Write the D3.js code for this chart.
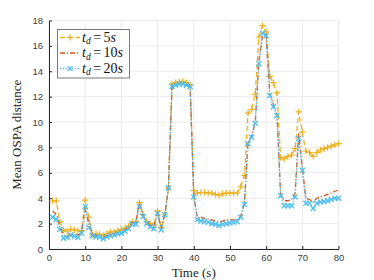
<!doctype html>
<html>
    <head>
        <script src="https://cdn.jsdelivr.net/npm/d3@7"></script>
        <style>
            html, body { margin: 0; padding: 0; background: #fff; }
            #viz svg { display: block; }
            .tick text { font-family: "Liberation Sans", Arial, sans-serif; font-size: 9.5px; fill: #404040; }
        </style>
    </head>
    <body>
        <div id="viz"></div>
        <script>
            // time stamps (s)
            var times = d3.range(1, 81);

            // mean OSPA distance, t_d = 5s
            var ospa5 = [3.8, 3.8, 2.15, 1.5, 1.4, 1.55, 1.5, 1.45, 1.45, 3.85,
                2.5, 1.1, 1.2, 1.15, 1.05, 1.2, 1.35, 1.35, 1.45, 1.55,
                1.65, 1.8, 2.15, 2.15, 3.65, 2.7, 2.15, 2.0, 1.9, 3.0,
                1.7, 2.7, 4.8, 13.0, 13.1, 13.15, 13.2, 13.1, 12.9, 4.6,
                4.4, 4.45, 4.45, 4.4, 4.4, 4.3, 4.25, 4.35, 4.4, 4.4,
                4.4, 4.4, 4.9, 5.8, 10.7, 11.0, 12.2, 16.7, 17.6, 17.1,
                13.6, 13.1, 12.3, 7.2, 7.1, 7.3, 7.4, 7.9, 10.8, 9.2,
                7.7, 7.6, 7.3, 7.6, 7.8, 7.9, 8.0, 8.1, 8.2, 8.3];

            // t_d = 10s
            var ospa10 = [3.0, 2.7, 1.8, 1.1, 1.0, 1.2, 1.15, 1.1, 1.3, 3.2,
                2.0, 1.15, 1.05, 1.05, 0.95, 1.05, 1.15, 1.2, 1.3, 1.35,
                1.5, 1.7, 2.05, 2.05, 3.7, 2.6, 2.1, 1.85, 1.7, 2.9,
                1.6, 2.7, 4.8, 12.9, 13.0, 13.05, 13.1, 13.0, 12.85, 4.2,
                2.45, 2.5, 2.4, 2.35, 2.3, 2.2, 2.15, 2.2, 2.3, 2.3,
                2.3, 2.3, 2.6, 3.6, 8.4, 8.9, 10.0, 14.8, 16.8, 17.0,
                12.3, 11.4, 10.6, 4.3, 3.8, 3.8, 3.9, 4.4, 9.1, 6.4,
                4.0, 3.9, 3.7, 4.0, 4.1, 4.2, 4.3, 4.4, 4.55, 4.65];

            // t_d = 20s
            var ospa20 = [2.5, 2.35, 1.55, 0.85, 0.9, 1.1, 1.0, 0.9, 1.25, 3.35,
                1.7, 1.05, 0.95, 0.95, 0.8, 0.95, 1.05, 1.1, 1.2, 1.25,
                1.4, 1.6, 1.95, 1.95, 3.35, 2.55, 2.0, 1.75, 1.6, 2.8,
                1.5, 2.7, 4.8, 12.8, 12.9, 13.0, 13.0, 12.9, 12.8, 4.1,
                2.3, 2.2, 2.15, 2.1, 2.0, 1.95, 1.85, 1.95, 2.0, 2.05,
                2.1, 2.15, 2.5, 3.5, 8.3, 8.8, 9.9, 14.6, 17.0, 16.8,
                12.1, 11.2, 10.5, 4.2, 3.4, 3.4, 3.4, 4.1, 8.7, 6.2,
                3.6, 3.6, 3.2, 3.6, 3.7, 3.75, 3.8, 3.9, 4.0, 4.0];

            var seriesLabels = ["5", "10", "20"];
            var xTicks = d3.range(0, 81, 10);
            var yTicks = d3.range(0, 19, 2);

            var w = 374, h = 280;
            var margin = {top: 20.5, right: 35.5, bottom: 31, left: 49};

            var svg = d3.select("#viz").append("svg")
                .attr("width", w)
                .attr("height", h);

            var x = d3.scaleLinear().domain([0, 80]).range([margin.left, w - margin.right]);
            var y = d3.scaleLinear().domain([0, 18]).range([h - margin.bottom, margin.top]);

            // grid
            var grid = svg.append("g");
            grid.selectAll("line.gx").data(xTicks).enter().append("line")
                .attr("x1", function (d) { return x(d); })
                .attr("x2", function (d) { return x(d); })
                .attr("y1", y(0)).attr("y2", y(18))
                .attr("stroke", "#ebebeb").attr("stroke-width", 1);
            grid.selectAll("line.gy").data(yTicks).enter().append("line")
                .attr("y1", function (d) { return y(d); })
                .attr("y2", function (d) { return y(d); })
                .attr("x1", x(0)).attr("x2", x(80))
                .attr("stroke", "#ebebeb").attr("stroke-width", 1);

            // axes
            svg.append("g")
                .attr("transform", "translate(0," + y(0) + ")")
                .call(d3.axisBottom(x).tickValues(xTicks).tickSizeInner(-3).tickSizeOuter(0).tickPadding(5));
            svg.append("g")
                .attr("transform", "translate(" + x(0) + ",0)")
                .call(d3.axisLeft(y).tickValues(yTicks).tickSizeInner(-3).tickSizeOuter(0).tickPadding(6));
            svg.selectAll(".domain").attr("stroke", "#262626").attr("stroke-width", 1);
            svg.selectAll(".tick line").attr("stroke", "#262626");

            // series
            var all = [
                {vals: ospa5, color: "#EDB120", dash: "5,3", marker: "plus"},
                {vals: ospa10, color: "#D95319", dash: "5,2,1,2", marker: "none"},
                {vals: ospa20, color: "#4DBEEE", dash: "1.2,1.8", marker: "cross"}
            ];

            var line = d3.line()
                .x(function (d) { return x(d[0]); })
                .y(function (d) { return y(d[1]); });

            var drawMarker = function (g, kind, cx, cy, color, s) {
                if (kind === "plus") {
                    g.append("path").attr("d", "M" + (cx - s) + "," + cy + "H" + (cx + s) + "M" + cx + "," + (cy - s) + "V" + (cy + s))
                        .attr("stroke", color).attr("stroke-width", 1.2).attr("fill", "none");
                } else if (kind === "cross") {
                    var k = s * 0.8;
                    g.append("path").attr("d", "M" + (cx - k) + "," + (cy - k) + "L" + (cx + k) + "," + (cy + k) +
                            "M" + (cx - k) + "," + (cy + k) + "L" + (cx + k) + "," + (cy - k))
                        .attr("stroke", color).attr("stroke-width", 1.3).attr("fill", "none");
                }
            };

            all.forEach(function (s) {
                var pts = times.map(function (t, i) { return [t, s.vals[i]]; });
                var g = svg.append("g");
                g.append("path")
                    .attr("d", line(pts))
                    .attr("fill", "none")
                    .attr("stroke", s.color)
                    .attr("stroke-width", 1.3)
                    .attr("stroke-dasharray", s.dash);
                pts.forEach(function (p) {
                    drawMarker(g, s.marker, x(p[0]), y(p[1]), s.color, 3.2);
                });
            });

            // axis labels
            svg.append("text")
                .attr("x", (x(0) + x(80)) / 2)
                .attr("y", 276.5)
                .attr("text-anchor", "middle")
                .attr("font-family", "Liberation Serif, serif")
                .attr("font-size", 13)
                .attr("fill", "#222")
                .text("Time (s)");
            svg.append("text")
                .attr("transform", "translate(21," + ((y(0) + y(18)) / 2) + ") rotate(-90)")
                .attr("text-anchor", "middle")
                .attr("font-family", "Liberation Serif, serif")
                .attr("font-size", 13)
                .attr("fill", "#222")
                .text("Mean OSPA distance");

            // legend
            var lg = svg.append("g");
            lg.append("rect")
                .attr("x", 57.5).attr("y", 29.5)
                .attr("width", 72).attr("height", 48.5)
                .attr("fill", "#fff")
                .attr("stroke", "#7a7a7a").attr("stroke-width", 1);
            all.forEach(function (s, i) {
                var cy = 37.5 + i * 15.5;
                lg.append("line")
                    .attr("x1", 60).attr("x2", 80)
                    .attr("y1", cy).attr("y2", cy)
                    .attr("stroke", s.color).attr("stroke-width", 1.3)
                    .attr("stroke-dasharray", s.dash);
                drawMarker(lg, s.marker, 70, cy, s.color, 3);
                var t = lg.append("text")
                    .attr("x", 82)
                    .attr("y", cy + 4)
                    .attr("font-family", "Liberation Serif, serif")
                    .attr("font-size", 14)
                    .attr("fill", "#111");
                t.append("tspan").attr("font-style", "italic").text("t");
                t.append("tspan").attr("font-style", "italic").attr("font-size", 9.5).attr("dy", 2.5).text("d");
                t.append("tspan").attr("dy", -2.5).attr("dx", 2.5).text("=");
                t.append("tspan").attr("dx", 2.5).text(seriesLabels[i]);
                t.append("tspan").attr("font-style", "italic").text("s");
            });
        </script>
    </body>
</html>
